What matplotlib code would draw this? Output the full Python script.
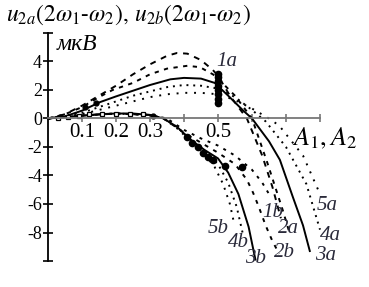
import matplotlib
matplotlib.use("Agg")
import matplotlib.pyplot as plt

plt.rcParams['mathtext.fontset'] = 'stix'
plt.rcParams['font.family'] = ['Liberation Serif', 'DejaVu Serif']

# ---- data ----
A_1a = [0, 0.05, 0.1, 0.15, 0.2, 0.25, 0.3, 0.35, 0.38, 0.41, 0.45, 0.485, 0.5, 0.535, 0.585, 0.63, 0.66, 0.685]
u_1a = [0, 0.3, 0.9, 1.6, 2.3, 3.1, 3.8, 4.4, 4.6, 4.55, 4.1, 3.4, 3.0, 1.6, 0.0, -2.6, -4.8, -7.0]

A_2a = [0, 0.05, 0.1, 0.15, 0.19, 0.25, 0.3, 0.35, 0.41, 0.447, 0.485, 0.5, 0.55, 0.6, 0.645, 0.69, 0.71]
u_2a = [0, 0.3, 0.8, 1.5, 2.0, 2.5, 3.1, 3.5, 3.7, 3.6, 3.1, 2.8, 1.6, 0.0, -3.1, -6.4, -8.0]

A_3a = [0, 0.05, 0.1, 0.153, 0.2, 0.25, 0.3, 0.36, 0.4, 0.45, 0.49, 0.53, 0.574, 0.6, 0.65, 0.682, 0.72, 0.75, 0.77]
u_3a = [0, 0.15, 0.55, 1.15, 1.55, 1.95, 2.35, 2.75, 2.85, 2.8, 2.5, 1.6, 0.56, 0.0, -1.6, -2.9, -5.5, -7.5, -9.3]

A_4a = [0, 0.1, 0.15, 0.2, 0.25, 0.3, 0.35, 0.4, 0.45, 0.5, 0.55, 0.6, 0.64, 0.7, 0.76, 0.8]
u_4a = [0, 0.4, 0.8, 1.2, 1.6, 1.9, 2.2, 2.35, 2.3, 2.1, 1.5, 0.6, -0.2, -2.0, -4.6, -7.8]

A_5a = [0, 0.1, 0.15, 0.2, 0.25, 0.3, 0.35, 0.4, 0.45, 0.5, 0.55, 0.6, 0.65, 0.68, 0.75, 0.8]
u_5a = [0, 0.3, 0.6, 0.9, 1.2, 1.5, 1.7, 1.8, 1.8, 1.7, 1.3, 0.7, 0.0, -0.5, -2.6, -5.3]

A_1b = [0, 0.1, 0.2, 0.3, 0.35, 0.4, 0.45, 0.5, 0.55, 0.6, 0.63, 0.65]
u_1b = [0, 0.2, 0.35, 0.25, 0.0, -0.8, -1.4, -1.9, -2.6, -3.6, -4.5, -5.3]

A_2b = [0, 0.1, 0.2, 0.3, 0.34, 0.4, 0.45, 0.5, 0.55, 0.585, 0.603, 0.62, 0.64, 0.66, 0.68]
u_2b = [0, 0.2, 0.35, 0.25, 0.0, -1.0, -1.7, -2.4, -3.2, -4.3, -5.2, -6.2, -7.5, -8.6, -9.5]

A_3b = [0, 0.05, 0.1, 0.15, 0.2, 0.25, 0.3, 0.34, 0.38, 0.42, 0.46, 0.5, 0.53, 0.56, 0.59, 0.61]
u_3b = [0, 0.1, 0.2, 0.3, 0.35, 0.35, 0.25, 0.0, -0.6, -1.5, -2.2, -2.8, -3.8, -5.3, -7.6, -9.9]

A_4b = [0, 0.1, 0.2, 0.3, 0.34, 0.38, 0.42, 0.46, 0.5, 0.53, 0.555, 0.575]
u_4b = [0, 0.2, 0.35, 0.25, 0.0, -0.6, -1.5, -2.3, -3.2, -4.5, -6.2, -8.3]

A_5b = [0, 0.1, 0.2, 0.3, 0.34, 0.38, 0.42, 0.46, 0.49, 0.515, 0.535, 0.545]
u_5b = [0, 0.2, 0.35, 0.25, 0.0, -0.7, -1.6, -2.5, -3.4, -4.6, -6.0, -7.1]

# experimental points
A_pts_up = [0.5, 0.5, 0.5, 0.5, 0.5, 0.5, 0.5, 0.5]
u_pts_up = [1.1, 1.4, 1.7, 2.0, 2.3, 2.6, 2.9, 3.1]
A_pts_low = [0.41, 0.424, 0.44, 0.455, 0.47, 0.485, 0.52, 0.57]
u_pts_low = [-1.3, -1.7, -2.0, -2.4, -2.7, -2.9, -3.3, -3.4]
A_pts_start = [0.11, 0.14, 0.31]
u_pts_start = [0.8, 1.1, 0.15]
A_sq = [0.03, 0.06, 0.09, 0.12, 0.16, 0.2, 0.24, 0.28]
u_sq = [0.05, 0.1, 0.2, 0.3, 0.35, 0.35, 0.35, 0.3]

x_ticks = [0.1, 0.2, 0.3, 0.4, 0.5, 0.6, 0.7, 0.8]
x_ticklabels = ['0.1', '0.2', '0.3', '', '0.5', '', '', '']
y_ticks = [-10, -8, -6, -4, -2, 0, 2, 4, 6]
y_ticklabels = ['', '-8', '-6', '-4', '-2', '0', '2', '4', '']

curve_labels = ['1a', '2a', '3a', '4a', '5a', '1b', '2b', '3b', '4b', '5b']
label_pos = [(0.527, 4.0), (0.708, -7.7), (0.815, -9.6), (0.83, -8.2), (0.822, -6.1),
             (0.66, -6.6), (0.696, -9.4), (0.61, -9.8), (0.56, -8.7), (0.5, -7.7)]

# ---- figure ----
fig = plt.figure(figsize=(3.69, 2.87), dpi=100)
ax = fig.add_axes([48/369, 26/287, 272/369, 228/287])
ax.set_xlim(0, 0.8)
ax.set_ylim(-10, 6)

lw = 1.4
k = 'black'
ax.plot(A_1a, u_1a, color=k, lw=lw, dashes=(3, 3), clip_on=False)
ax.plot(A_2a, u_2a, color=k, lw=lw, dashes=(2.2, 2.8), clip_on=False)
ax.plot(A_3a, u_3a, color=k, lw=lw, clip_on=False)
ax.plot(A_4a, u_4a, color=k, lw=lw, dashes=(1, 2.5), clip_on=False)
ax.plot(A_5a, u_5a, color=k, lw=lw, dashes=(1, 3.5), clip_on=False)
ax.plot(A_1b, u_1b, color=k, lw=lw, dashes=(1.5, 3), clip_on=False)
ax.plot(A_2b, u_2b, color=k, lw=lw, dashes=(2, 3), clip_on=False)
ax.plot(A_3b, u_3b, color=k, lw=lw, clip_on=False)
ax.plot(A_4b, u_4b, color=k, lw=lw, dashes=(1, 2.5), clip_on=False)
ax.plot(A_5b, u_5b, color=k, lw=lw, dashes=(1, 3), clip_on=False)

ax.plot(A_pts_up, u_pts_up, 'o', color=k, ms=4.5, clip_on=False)
ax.plot(A_pts_low, u_pts_low, 'o', color=k, ms=4.5, clip_on=False)
ax.plot(A_pts_start, u_pts_start, 'o', color=k, ms=3.5, clip_on=False)
ax.plot(A_sq, u_sq, 's', mfc='white', mec=k, ms=2.5, mew=0.9, clip_on=False)

for t, (x, y) in zip(curve_labels, label_pos):
    ax.text(x, y, t, fontsize=15, style='italic', color='#2a2a3a', ha='center', va='center')

# spines
for s in ['top', 'right']:
    ax.spines[s].set_visible(False)
ax.spines['left'].set_position(('data', 0))
ax.spines['bottom'].set_position(('data', 0))
ax.spines['left'].set_linewidth(1.3)
ax.spines['bottom'].set_linewidth(1.3)
ax.spines['bottom'].set_color('#777777')

ax.set_xticks(x_ticks)
ax.set_xticklabels(x_ticklabels)
ax.set_yticks(y_ticks)
ax.set_yticklabels(y_ticklabels)
ax.tick_params(axis='x', direction='inout', length=6, width=1.2, color='#777777',
               labelsize=15, pad=0)
ax.tick_params(axis='y', direction='inout', length=7, width=1.2, labelsize=13, pad=1)

fig.text(6/369, 1 - 15/287, r'$u_{2a}(2\omega_1\text{-}\omega_2),\,u_{2b}(2\omega_1\text{-}\omega_2)$',
         fontsize=17, ha='left', va='center')
fig.text(57/369, 1 - 45/287, 'мкВ', fontsize=17, style='italic', ha='left', va='center')
fig.text(292/369, 1 - 138/287, r'$A_1,A_2$', fontsize=19, ha='left', va='center')

fig.savefig('out.png', dpi=100)
